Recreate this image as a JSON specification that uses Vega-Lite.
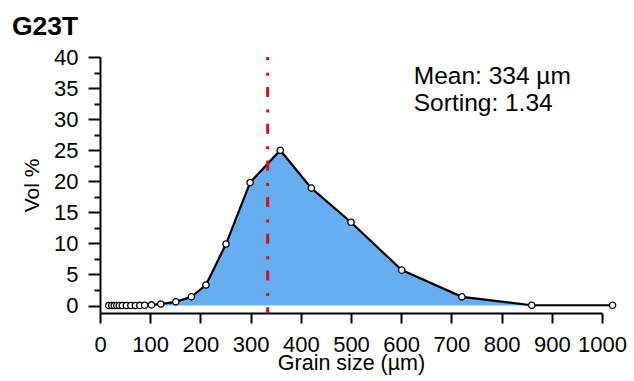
{
  "$schema": "https://vega.github.io/schema/vega-lite/v6.json",
  "width": 502,
  "height": 256,
  "autosize": "none",
  "padding": {"left": 100, "top": 57, "right": 32, "bottom": 68},
  "background": "white",
  "config": {"view": {"stroke": null}, "font": "Liberation Sans"},
  "title": {"text": "G23T", "anchor": "start", "frame": "group", "dx": -88, "dy": 39, "baseline": "alphabetic", "offset": 24, "fontSize": 26.5, "font": "Liberation Sans", "fontWeight": "bold", "color": "black"},
  "datasets": {
    "grain": [
      {"size": 17.5, "vol": 0},
      {"size": 23.5, "vol": 0},
      {"size": 28.5, "vol": 0},
      {"size": 33.5, "vol": 0},
      {"size": 38.5, "vol": 0},
      {"size": 44.5, "vol": 0},
      {"size": 52.5, "vol": 0},
      {"size": 61.5, "vol": 0},
      {"size": 70.5, "vol": 0},
      {"size": 79.5, "vol": 0.02},
      {"size": 89, "vol": 0.05},
      {"size": 102.5, "vol": 0.1},
      {"size": 121, "vol": 0.25},
      {"size": 151, "vol": 0.6},
      {"size": 182, "vol": 1.4},
      {"size": 211, "vol": 3.3},
      {"size": 251, "vol": 9.9},
      {"size": 299, "vol": 19.8},
      {"size": 359, "vol": 25.0},
      {"size": 421, "vol": 18.9},
      {"size": 500, "vol": 13.4},
      {"size": 601, "vol": 5.7},
      {"size": 721, "vol": 1.4},
      {"size": 860, "vol": 0.05},
      {"size": 1021, "vol": 0.05}
    ],
    "stats": [{"mean": 334, "sorting": 1.34}]
  },
  "layer": [
    {
      "data": {"name": "grain"},
      "encoding": {
        "x": {"field": "size", "type": "quantitative",
          "scale": {"domain": [0, 1000], "nice": false, "zero": false},
          "axis": {"values": [0,100,200,300,400,500,600,700,800,900,1000], "format": "d", "title": "Grain size (µm)", "grid": false,
            "tickSize": 10, "tickWidth": 2, "tickColor": "black", "domainWidth": 2, "domainColor": "black",
            "labelFontSize": 22, "labelFont": "Liberation Sans", "labelColor": "black", "labelPadding": 11, "labelFlush": false, "labelOverlap": false,
            "titleFontSize": 21.5, "titleFont": "Liberation Sans", "titleFontWeight": "normal", "titleColor": "black", "titleBaseline": "alphabetic", "titleY": 56.5}},
        "y": {"field": "vol", "type": "quantitative",
          "scale": {"domain": [-1.2, 40], "nice": false, "zero": false},
          "axis": {"values": [0,2.5,5,7.5,10,12.5,15,17.5,20,22.5,25,27.5,30,32.5,35,37.5,40], "title": "Vol %", "grid": false,
            "tickSize": {"condition": {"test": "datum.value % 5 === 0", "value": 12}, "value": 6},
            "tickWidth": 2, "tickColor": "black", "domainWidth": 2, "domainColor": "black",
            "labelExpr": "datum.value % 5 === 0 ? datum.label : ''",
            "labelFontSize": 22, "labelFont": "Liberation Sans", "labelColor": "black", "labelPadding": 10, "labelFlush": false,
            "labelOverlap": false, "labelBound": false,
            "titleFontSize": 21, "titleFont": "Liberation Sans", "titleFontWeight": "normal", "titleColor": "black",
            "titleX": -62, "titleY": 128, "titleAngle": -90, "titleAlign": "center", "titleBaseline": "alphabetic"}}
      },
      "layer": [
        {"mark": {"type": "area", "color": "#68adf0", "opacity": 1}, "encoding": {"y2": {"datum": 0}}},
        {"mark": {"type": "line", "color": "black", "strokeWidth": 2.2}},
        {"mark": {"type": "point", "shape": "circle", "filled": true, "fill": "white", "stroke": "black", "strokeWidth": 1.3, "size": 40, "opacity": 1}}
      ]
    },
    {
      "data": {"name": "stats"},
      "mark": {"type": "rule", "color": "#d0101b", "strokeWidth": 3, "strokeDash": [10, 12.5, 3, 11.2], "strokeDashOffset": 6.7},
      "encoding": {
        "x": {"field": "mean", "type": "quantitative",
          "axis": {"values": [0,100,200,300,400,500,600,700,800,900,1000], "format": "d", "title": "Grain size (µm)", "grid": false,
            "tickSize": 10, "tickWidth": 2, "tickColor": "black", "domainWidth": 2, "domainColor": "black",
            "labelFontSize": 22, "labelFont": "Liberation Sans", "labelColor": "black", "labelPadding": 11, "labelFlush": false, "labelOverlap": false,
            "titleFontSize": 21.5, "titleFont": "Liberation Sans", "titleFontWeight": "normal", "titleColor": "black", "titleBaseline": "alphabetic", "titleY": 56.5}},
        "y": {"datum": 40, "type": "quantitative",
          "axis": {"values": [0,2.5,5,7.5,10,12.5,15,17.5,20,22.5,25,27.5,30,32.5,35,37.5,40], "title": "Vol %", "grid": false,
            "tickSize": {"condition": {"test": "datum.value % 5 === 0", "value": 12}, "value": 6},
            "tickWidth": 2, "tickColor": "black", "domainWidth": 2, "domainColor": "black",
            "labelExpr": "datum.value % 5 === 0 ? datum.label : ''",
            "labelFontSize": 22, "labelFont": "Liberation Sans", "labelColor": "black", "labelPadding": 10, "labelFlush": false,
            "labelOverlap": false, "labelBound": false,
            "titleFontSize": 21, "titleFont": "Liberation Sans", "titleFontWeight": "normal", "titleColor": "black",
            "titleX": -62, "titleY": 128, "titleAngle": -90, "titleAlign": "center", "titleBaseline": "alphabetic"}},
        "y2": {"datum": -1.2}
      }
    },
    {
      "data": {"name": "stats"},
      "mark": {"type": "text", "align": "left", "baseline": "alphabetic", "fontSize": 24.5, "lineHeight": 27, "font": "Liberation Sans", "color": "black", "lineBreak": "\n", "text": "Mean: 334 µm\nSorting: 1.34"},
      "encoding": {
        "x": {"datum": 625, "type": "quantitative",
          "axis": {"values": [0,100,200,300,400,500,600,700,800,900,1000], "format": "d", "title": "Grain size (µm)", "grid": false,
            "tickSize": 10, "tickWidth": 2, "tickColor": "black", "domainWidth": 2, "domainColor": "black",
            "labelFontSize": 22, "labelFont": "Liberation Sans", "labelColor": "black", "labelPadding": 11, "labelFlush": false, "labelOverlap": false,
            "titleFontSize": 21.5, "titleFont": "Liberation Sans", "titleFontWeight": "normal", "titleColor": "black", "titleBaseline": "alphabetic", "titleY": 56.5}},
        "y": {"datum": 35.7, "type": "quantitative",
          "axis": {"values": [0,2.5,5,7.5,10,12.5,15,17.5,20,22.5,25,27.5,30,32.5,35,37.5,40], "title": "Vol %", "grid": false,
            "tickSize": {"condition": {"test": "datum.value % 5 === 0", "value": 12}, "value": 6},
            "tickWidth": 2, "tickColor": "black", "domainWidth": 2, "domainColor": "black",
            "labelExpr": "datum.value % 5 === 0 ? datum.label : ''",
            "labelFontSize": 22, "labelFont": "Liberation Sans", "labelColor": "black", "labelPadding": 10, "labelFlush": false,
            "labelOverlap": false, "labelBound": false,
            "titleFontSize": 21, "titleFont": "Liberation Sans", "titleFontWeight": "normal", "titleColor": "black",
            "titleX": -62, "titleY": 128, "titleAngle": -90, "titleAlign": "center", "titleBaseline": "alphabetic"}}
      }
    }
  ]
}
